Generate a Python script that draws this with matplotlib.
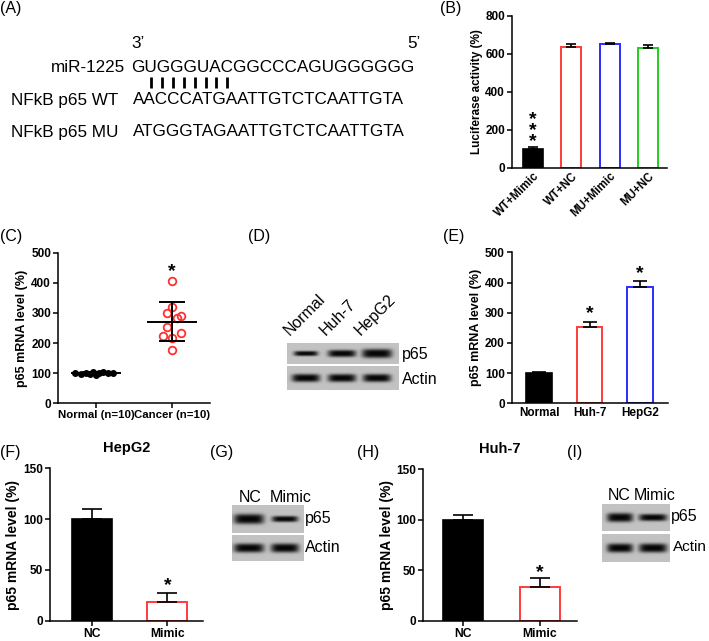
import matplotlib

matplotlib.use("Agg")
import matplotlib.pyplot as plt
import numpy as np

plt.rcParams["font.family"] = "Liberation Sans"

# ---------------- data ----------------
luc_labels = ["WT+Mimic", "WT+NC", "MU+Mimic", "MU+NC"]
luc_values = [100, 635, 650, 632]
luc_errors = [8, 20, 8, 15]
luc_colors = ["black", "#ff3b3b", "#2b2bff", "#22cc22"]

tissue_labels = ["Normal (n=10)", "Cancer (n=10)"]
normal_values = [100, 98, 99, 96, 103, 95, 101, 104, 99, 100]
normal_jitter = [-0.28, -0.2, -0.13, -0.08, -0.04, 0.0, 0.04, 0.09, 0.16, 0.22]
cancer_values = [406, 321, 299, 290, 284, 254, 234, 225, 216, 177]
cancer_jitter = [0.0, 0.0, -0.07, 0.12, 0.06, -0.07, 0.12, -0.12, 0.0, 0.0]

cell_labels = ["Normal", "Huh-7", "HepG2"]
cell_values = [100, 253, 384]
cell_errors = [4, 17, 22]
cell_colors = ["black", "#ff3b3b", "#2b2bff"]

mimic_labels = ["NC", "Mimic"]
hepg2_values = [100, 18]
hepg2_errors = [10, 9]
huh7_values = [100, 33]
huh7_errors = [5, 9]

# western blot band thickness (px) per lane
blot_d_p65 = [5, 7, 9]
blot_d_actin = [8, 8, 8]
blot_g_p65 = [10, 6]
blot_g_actin = [9, 9]
blot_i_p65 = [9, 7]
blot_i_actin = [9, 9]

W, H = 709, 641
fig = plt.figure(figsize=(W / 100, H / 100), dpi=100)

# overlay in pixel coordinates for schematic / blots / panel letters
ov = fig.add_axes([0, 0, 1, 1])
ov.axis("off")


def px_axes(x0, x1, y0, y1):
    a = fig.add_axes([x0 / W, 1 - y1 / H, (x1 - x0) / W, (y1 - y0) / H])
    a.set_facecolor("none")
    for s in ["top", "right"]:
        a.spines[s].set_visible(False)
    for s in ["left", "bottom"]:
        a.spines[s].set_linewidth(1.1)
    a.tick_params(width=1.1, length=3.5, labelsize=8.5, pad=1.5)
    return a


def bold_ticks(a):
    for t in a.get_yticklabels() + a.get_xticklabels():
        t.set_fontweight("bold")


def bars(a, labels, values, errors, colors, width, capsize):
    x = np.arange(len(values))
    for xi, v, c in zip(x, values, colors):
        if c == "black":
            a.bar(xi, v, width, color="black", edgecolor="black", linewidth=1.2, zorder=2)
        else:
            a.bar(xi, v, width, color="white", edgecolor=c, linewidth=1.4, zorder=2)
    a.errorbar(x, values, yerr=[np.zeros(len(values)), errors], fmt="none",
               ecolor="black", elinewidth=1.2, capsize=capsize, capthick=1.2, zorder=3)
    a.set_xticks(x)
    a.set_xticklabels(labels)
    return x


# ---------------- (A) ----------------
fs_seq = 12.3
ov.text(131, 43, "3’", fontsize=fs_seq, va="center", ha="left")
ov.text(407, 43, "5’", fontsize=fs_seq, va="center", ha="left")
ov.text(125, 68, "miR-1225", fontsize=fs_seq, va="center", ha="right")
ov.text(131, 68, "GUGGGUACGGCCCAGUGGGGGG", fontsize=fs_seq, va="center", ha="left")
ov.vlines(151 + 10.9 * np.arange(8), 76.5, 87.5, color="black", lw=2.0)
ov.text(118, 100, "NFkB p65 WT", fontsize=fs_seq, va="center", ha="right")
ov.text(133, 100, "AACCCATGAATTGTCTCAATTGTA", fontsize=fs_seq, va="center", ha="left")
ov.text(118, 132, "NFkB p65 MU", fontsize=fs_seq, va="center", ha="right")
ov.text(133, 132, "ATGGGTAGAATTGTCTCAATTGTA", fontsize=fs_seq, va="center", ha="left")

# panel letters
for lab, x, y in [("(A)", 0, 9), ("(B)", 440, 9), ("(C)", 0, 237), ("(D)", 248, 237),
                  ("(E)", 443, 237), ("(F)", 0, 453), ("(G)", 210, 453),
                  ("(H)", 357, 452), ("(I)", 567, 452)]:
    ov.text(x, y, lab, fontsize=11.5, va="center", ha="left")

# ---------------- (B) ----------------
axB = px_axes(512, 667, 16, 168)
xb = bars(axB, luc_labels, luc_values, luc_errors, luc_colors, 0.52, 3.5)
axB.set_xlim(-0.55, 3.5)
axB.set_ylim(0, 800)
axB.set_yticks([0, 200, 400, 600, 800])
axB.tick_params(axis="x", length=0)
plt.setp(axB.get_xticklabels(), rotation=45, ha="right", rotation_mode="anchor", fontsize=8.3)
axB.set_ylabel("Luciferase activity (%)", fontsize=8.5, fontweight="bold", labelpad=2)
axB.text(xb[0], 196, "*\n*\n*", ha="center", va="center", fontsize=14,
         fontweight="bold", linespacing=0.55)
bold_ticks(axB)

# ---------------- (C) ----------------
axC = px_axes(58, 210, 252.7, 403.3)
axC.plot(0 + np.array(normal_jitter), normal_values, "o", color="black", ms=4, zorder=3)
axC.plot(1 + np.array(cancer_jitter), cancer_values, "o", mfc="none", mec="#ff3030",
         ms=5.5, mew=1.3, zorder=3)
for xi, vals in [(0, normal_values), (1, cancer_values)]:
    m = np.mean(vals)
    sd = np.std(vals, ddof=1)
    axC.hlines(m, xi - 0.33, xi + 0.33, color="black", lw=1.4, zorder=4)
    axC.hlines([m - sd, m + sd], xi - 0.165, xi + 0.165, color="black", lw=1.4, zorder=4)
    axC.vlines(xi, m - sd, m + sd, color="black", lw=1.4, zorder=4)
axC.text(1, 437, "*", ha="center", va="center", fontsize=14, fontweight="bold")
axC.set_xlim(-0.5, 1.5)
axC.set_ylim(0, 500)
axC.set_xticks([0, 1])
axC.set_xticklabels(tissue_labels, fontsize=8.2)
axC.set_yticks(range(0, 501, 100))
axC.set_ylabel("p65 mRNA level (%)", fontsize=9, fontweight="bold", labelpad=2)
bold_ticks(axC)


# ---------------- blots ----------------
def blot(x0, x1, y0, y1, centers, thick, halfw):
    res = 4
    nx, ny = int((x1 - x0) * res), int((y1 - y0) * res)
    xs = x0 + (np.arange(nx) + 0.5) / res
    ys = y0 + (np.arange(ny) + 0.5) / res
    X, Y = np.meshgrid(xs, ys)
    img = np.full(X.shape, 0.76)
    yc = (y0 + y1) / 2
    dark = np.zeros(X.shape)
    for c, t, hw in zip(centers, thick, halfw):
        prof_x = np.exp(-np.abs((X - c) / hw) ** 5)
        prof_y = np.exp(-np.abs((Y - yc) / (t / 2)) ** 3)
        dark = np.maximum(dark, prof_x * prof_y)
    img = img * (1 - 0.97 * dark)
    ov.imshow(img, cmap="gray", vmin=0, vmax=1, extent=(x0, x1, y1, y0),
              aspect="auto", interpolation="bilinear", zorder=1)


# (D)
blot(287, 399, 343, 364, [306, 342, 377], blot_d_p65, [12, 14, 15])
blot(287, 399, 366, 390, [306, 342, 377], blot_d_actin, [14, 14, 14])
ov.text(402, 354, "p65", fontsize=11.5, va="center", ha="left")
ov.text(402, 379, "Actin", fontsize=11.5, va="center", ha="left")
for c, lab in zip([306, 342, 377], cell_labels):
    ov.text(c - 14, 338, lab, fontsize=11.5, rotation=45, ha="left", va="bottom",
            rotation_mode="anchor")

# (G)
blot(232, 304, 505, 533, [249, 285], blot_g_p65, [15, 13])
blot(232, 304, 535, 561, [249, 285], blot_g_actin, [15, 14])
ov.text(305, 519, "p65", fontsize=11.5, va="center", ha="left")
ov.text(305, 548, "Actin", fontsize=11.5, va="center", ha="left")
ov.text(250, 497, "NC", fontsize=11.5, va="center", ha="center")
ov.text(291, 497, "Mimic", fontsize=11.5, va="center", ha="center")

# (I)
blot(602, 670, 504, 531, [620, 653], blot_i_p65, [13, 14])
blot(602, 670, 534, 562, [620, 653], blot_i_actin, [13, 14])
ov.text(671, 517, "p65", fontsize=11.5, va="center", ha="left")
ov.text(673, 547, "Actin", fontsize=11, va="center", ha="left")
ov.text(619, 496, "NC", fontsize=11.5, va="center", ha="center")
ov.text(655, 496, "Mimic", fontsize=11.5, va="center", ha="center")

# ---------------- (E) ----------------
axE = px_axes(511.7, 668, 252.3, 403.3)
xe = bars(axE, cell_labels, cell_values, cell_errors, cell_colors, 0.51, 5)
axE.set_xlim(-0.54, 2.55)
axE.set_ylim(0, 500)
axE.set_yticks(range(0, 501, 100))
axE.tick_params(axis="x", labelsize=8.5, length=0, pad=3)
axE.set_ylabel("p65 mRNA level (%)", fontsize=9, fontweight="bold", labelpad=2)
axE.text(xe[1], 298, "*", ha="center", va="center", fontsize=14, fontweight="bold")
axE.text(xe[2], 430, "*", ha="center", va="center", fontsize=14, fontweight="bold")
bold_ticks(axE)

# ---------------- (F) ----------------
axF = px_axes(50, 203, 468.3, 620.7)
xf = bars(axF, mimic_labels, hepg2_values, hepg2_errors, ["black", "#ff3b3b"], 0.53, 7)
axF.set_xlim(-0.55, 1.47)
axF.set_ylim(0, 150)
axF.set_yticks([0, 50, 100, 150])
axF.tick_params(axis="x", labelsize=8.7)
axF.set_ylabel("p65 mRNA level (%)", fontsize=10, fontweight="bold", labelpad=2)
axF.set_title("HepG2", fontsize=10.5, fontweight="bold", pad=12)
axF.text(xf[1], 35, "*", ha="center", va="center", fontsize=14, fontweight="bold")
bold_ticks(axF)

# ---------------- (H) ----------------
axH = px_axes(423.3, 576.7, 469.3, 620.7)
xh = bars(axH, mimic_labels, huh7_values, huh7_errors, ["black", "#ff3b3b"], 0.52, 7)
axH.set_xlim(-0.52, 1.48)
axH.set_ylim(0, 150)
axH.set_yticks([0, 50, 100, 150])
axH.tick_params(axis="x", labelsize=8.7)
axH.set_ylabel("p65 mRNA level (%)", fontsize=10, fontweight="bold", labelpad=2)
axH.set_title("Huh-7", fontsize=10.5, fontweight="bold", pad=12)
axH.text(xh[1], 48, "*", ha="center", va="center", fontsize=14, fontweight="bold")
bold_ticks(axH)

ov.set_xlim(0, W)
ov.set_ylim(H, 0)

fig.savefig("out.png", dpi=100)
